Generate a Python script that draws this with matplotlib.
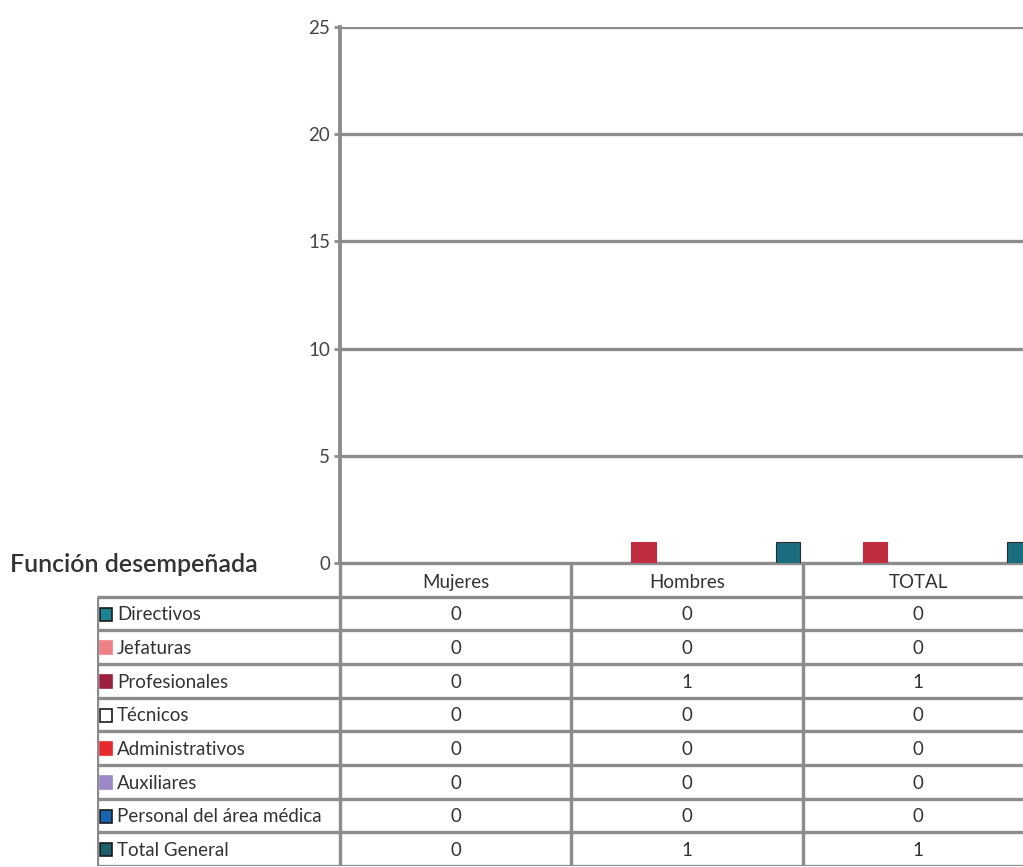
import matplotlib
matplotlib.use("Agg")
import matplotlib.pyplot as plt
import numpy as np
from matplotlib.patches import Rectangle

plt.rcParams["font.family"] = ["Lato", "DejaVu Sans"]

# datos
categorias = ["Mujeres", "Hombres", "TOTAL"]
funciones = ["Directivos", "Jefaturas", "Profesionales", "Técnicos",
             "Administrativos", "Auxiliares", "Personal del área médica",
             "Total General"]
directivos = [0, 0, 0]
jefaturas = [0, 0, 0]
profesionales = [0, 1, 1]
tecnicos = [0, 0, 0]
administrativos = [0, 0, 0]
auxiliares = [0, 0, 0]
personal_medico = [0, 0, 0]
total_general = [0, 1, 1]
series = [directivos, jefaturas, profesionales, tecnicos, administrativos,
          auxiliares, personal_medico, total_general]

col_leyenda = ["#1b8494", "#ef8088", "#9e2040", "#ffffff", "#e62a2e",
               "#9a88c8", "#1764b0", "#1e5f6c"]
col_barra = ["#1b8494", "#ef8088", "#c02c40", "#ffffff", "#e62a2e",
             "#9a88c8", "#1764b0", "#1b6e80"]
GRIS = "#8c8c8c"
TXT = "#333333"
FS = 13.5

W, H = 1023, 867
fig = plt.figure(figsize=(W / 100, H / 100), dpi=100)

# --- grafico ---
x0, x1, ytop, y0 = 340, 1034, 27, 563
ax = fig.add_axes([x0 / W, 1 - y0 / H, (x1 - x0) / W, (y0 - ytop) / H])
n = len(series)
ancho = 1 / n
x = np.arange(len(categorias))
for i, s in enumerate(series):
    pos = x - 0.5 + ancho * (i + 0.5)
    vals = np.array(s, dtype=float)
    m = vals > 0
    ax.bar(pos[m], vals[m], width=ancho * 0.85, color=col_barra[i],
           edgecolor="#2a2a2a" if i == n - 1 else col_barra[i], lw=0.8,
           zorder=3)
ax.set_xlim(-0.5, len(categorias) - 0.5)
ax.set_ylim(0, 25)
ax.set_yticks(range(0, 26, 5))
ax.yaxis.grid(True, color=GRIS, lw=2.4, zorder=1)
ax.set_xticks([])
for s in ["top", "right", "bottom"]:
    ax.spines[s].set_visible(False)
ax.spines["left"].set_color(GRIS)
ax.spines["left"].set_linewidth(2.8)
ax.tick_params(axis="y", colors=GRIS, length=4, width=2, pad=3,
               labelsize=FS, labelcolor="#444444")
ax.set_facecolor("none")

# --- tabla ---
tx0, tybot = 97, 866
lab_w = (x0 - tx0) / ((x1 - x0) / len(categorias))
tab = fig.add_axes([tx0 / W, 1 - tybot / H, (x1 - tx0) / W, (tybot - y0) / H])
tab.set_xlim(-0.5 - lab_w, len(categorias) - 0.5)
nfil = len(funciones) + 1
tab.set_ylim(nfil, 0)
tab.axis("off")
kw = dict(color=GRIS, lw=2.4, solid_capstyle="butt")
# lineas horizontales
tab.plot([-0.5, len(categorias) - 0.5], [0, 0], **kw)
for r in range(1, nfil + 1):
    tab.plot([-0.5 - lab_w, len(categorias) - 0.5], [r, r], **kw)
# lineas verticales
tab.plot([-0.5 - lab_w] * 2, [1, nfil], **kw)
for c in range(len(categorias) + 1):
    tab.plot([c - 0.5] * 2, [0, nfil], **kw)
for c, cat in enumerate(categorias):
    tab.text(c, 0.58, cat, ha="center", va="center", fontsize=FS, color=TXT)
for r, (fn, s) in enumerate(zip(funciones, series), start=1):
    lx = -0.5 - lab_w + 0.015
    tab.add_patch(Rectangle((lx, r + 0.33), 0.05, 0.38,
                            facecolor=col_leyenda[r - 1],
                            edgecolor="#1a1a1a" if r - 1 in (0, 3, 6, 7)
                            else col_leyenda[r - 1], lw=1.2))
    tab.text(lx + 0.072, r + 0.54, fn, ha="left", va="center",
             fontsize=FS, color=TXT)
    for c, v in enumerate(s):
        tab.text(c, r + 0.54, str(v), ha="center", va="center",
                 fontsize=FS, color=TXT)

fig.text(10 / W, 1 - 565 / H, "Función desempeñada", ha="left", va="center",
         fontsize=18, fontweight="semibold", color="#333333")

fig.savefig("out.png", dpi=100)
